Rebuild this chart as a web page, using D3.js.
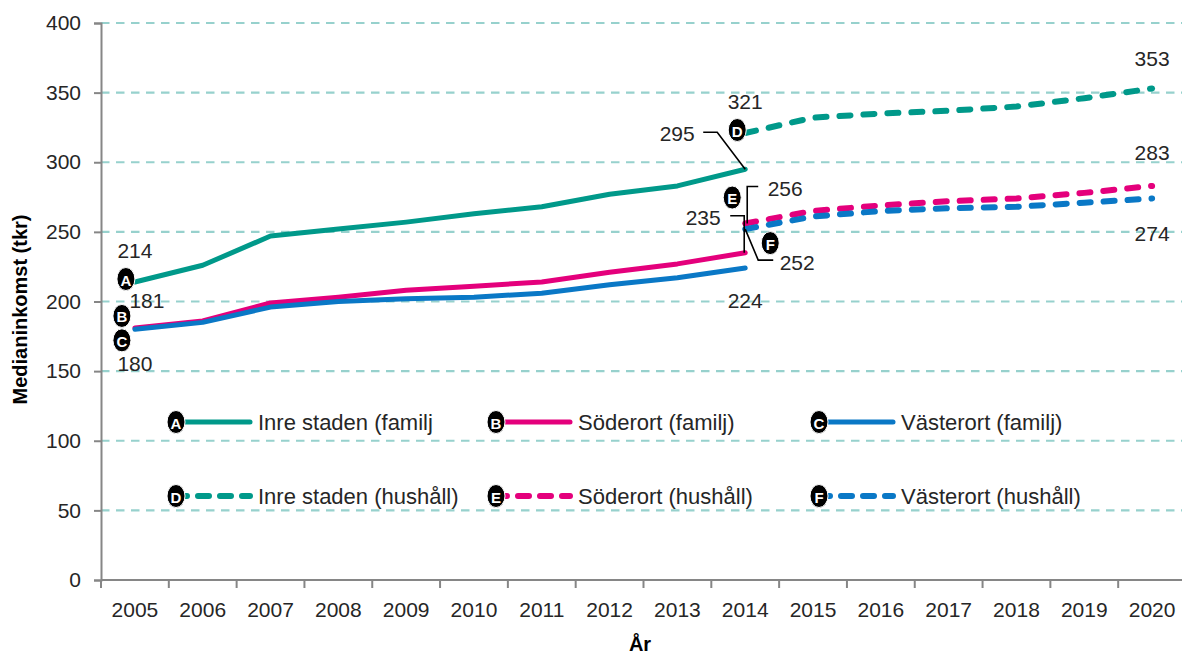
<!DOCTYPE html>
<html>
<head>
<meta charset="utf-8">
<script src="https://cdn.jsdelivr.net/npm/d3@7"></script>
<style>
  body { margin: 0; background: #fff; }
  text { font-family: "Liberation Sans", Arial, sans-serif; fill: #262626; }
</style>
</head>
<body>
<div id="chart"></div>
<script>
// categories
const years = ["2005", "2006", "2007", "2008", "2009", "2010", "2011", "2012",
    "2013", "2014", "2015", "2016", "2017", "2018", "2019", "2020"];
const familjYears = ["2005", "2006", "2007", "2008", "2009", "2010", "2011", "2012", "2013", "2014"];
const hushallYears = ["2014", "2015", "2016", "2017", "2018", "2019", "2020"];
const yTicks = [0, 50, 100, 150, 200, 250, 300, 350, 400];

// median income (tkr)
const inreFamilj = [214, 226, 247, 252, 257, 263, 268, 277, 283, 295];
const soderFamilj = [181, 186, 199, 203, 208, 211, 214, 221, 227, 235];
const vasterFamilj = [180, 185, 196, 200, 202, 203, 206, 212, 217, 224];
const inreHushall = [321, 332, 335, 337, 340, 346, 353];
const soderHushall = [256, 265, 269, 272, 274, 278, 283];
const vasterHushall = [252, 261, 265, 267, 268, 271, 274];

const teal = "#00998a", pink = "#e4007c", blue = "#0a78c6";

const series = [
    { key: "A", name: "Inre staden (familj", years: familjYears, values: inreFamilj, color: teal, dashed: false },
    { key: "B", name: "Söderort (familj)", years: familjYears, values: soderFamilj, color: pink, dashed: false },
    { key: "C", name: "Västerort (familj)", years: familjYears, values: vasterFamilj, color: blue, dashed: false },
    { key: "D", name: "Inre staden (hushåll)", years: hushallYears, values: inreHushall, color: teal, dashed: true },
    { key: "E", name: "Söderort (hushåll)", years: hushallYears, values: soderHushall, color: pink, dashed: true },
    { key: "F", name: "Västerort (hushåll)", years: hushallYears, values: vasterHushall, color: blue, dashed: true }
];

const width = 1182, height = 655;
const plotLeft = 101, plotRight = 1186, plotTop = 23, plotBottom = 580;

const svg = d3.select("#chart").append("svg")
    .attr("width", width)
    .attr("height", height);

const x = d3.scaleBand().domain(years).range([plotLeft, plotRight]).paddingInner(0).paddingOuter(0);
const y = d3.scaleLinear().domain([0, 400]).range([plotBottom, plotTop]);
const xc = d => x(d) + x.bandwidth() / 2;

// gridlines
svg.append("g")
    .selectAll("line")
    .data(yTicks.filter(d => d > 0))
    .join("line")
    .attr("x1", plotLeft).attr("x2", width)
    .attr("y1", d => y(d)).attr("y2", d => y(d))
    .attr("stroke", "#97d1cd")
    .attr("stroke-width", 2.2)
    .attr("stroke-dasharray", "8.5,6.5");

// axes
const yAxis = svg.append("g")
    .attr("transform", `translate(${plotLeft},0)`)
    .call(d3.axisLeft(y).tickValues(yTicks).tickSize(7).tickPadding(13));
const xAxis = svg.append("g")
    .attr("transform", `translate(0,${plotBottom})`)
    .call(d3.axisBottom(x).tickSize(0).tickPadding(22));

[yAxis, xAxis].forEach(a => {
    a.select(".domain").attr("stroke", "#868686").attr("stroke-width", 2);
    a.selectAll(".tick line").attr("stroke", "#868686").attr("stroke-width", 2);
    a.selectAll("text").attr("font-size", 21).attr("fill", "#262626")
        .attr("font-family", "Liberation Sans, Arial, sans-serif");
});
xAxis.select(".domain").attr("d", `M${plotLeft},0H${width}`);
// category separators on the x axis
xAxis.selectAll("line.sep")
    .data(years)
    .join("line")
    .attr("class", "sep")
    .attr("x1", d => x(d)).attr("x2", d => x(d))
    .attr("y1", 0).attr("y2", 8)
    .attr("stroke", "#868686").attr("stroke-width", 2);

// axis titles
svg.append("text")
    .attr("transform", `translate(20,${(plotTop + plotBottom) / 2 + 8}) rotate(-90)`)
    .attr("text-anchor", "middle")
    .attr("dominant-baseline", "central")
    .attr("font-size", 20).attr("font-weight", "bold")
    .style("fill", "#000")
    .text("Medianinkomst (tkr)");
svg.append("text")
    .attr("x", 640).attr("y", 651)
    .attr("text-anchor", "middle")
    .attr("font-size", 20).attr("font-weight", "bold")
    .style("fill", "#000")
    .text("År");

// lines
const line = d3.line().x(d => xc(d.year)).y(d => y(d.value));
series.forEach(s => {
    const pts = s.years.map((yr, i) => ({ year: yr, value: s.values[i] }));
    svg.append("path")
        .datum(pts)
        .attr("d", line)
        .attr("fill", "none")
        .attr("stroke", s.color)
        .attr("stroke-width", s.dashed ? 6 : 5)
        .attr("stroke-linecap", "round")
        .attr("stroke-linejoin", "round")
        .attr("stroke-dasharray", s.dashed ? "11,13" : null);
});

const badge = (g, cx, cy, letter) => {
    g.append("ellipse")
        .attr("cx", cx).attr("cy", cy)
        .attr("rx", 9).attr("ry", 11.5)
        .attr("fill", "#000")
        .attr("stroke", "#fff").attr("stroke-width", 1);
    g.append("text")
        .attr("x", cx).attr("y", cy + 1)
        .attr("text-anchor", "middle")
        .attr("dominant-baseline", "central")
        .attr("font-size", 15).attr("font-weight", "bold")
        .style("fill", "#fff")
        .text(letter);
};

const label = (g, tx, ty, txt) => {
    g.append("text")
        .attr("x", tx).attr("y", ty)
        .attr("text-anchor", "middle")
        .attr("dominant-baseline", "central")
        .attr("font-size", 21)
        .text(txt);
};

const leader = (g, pts) => {
    g.append("path")
        .attr("d", d3.line()(pts))
        .attr("fill", "none")
        .attr("stroke", "#000")
        .attr("stroke-width", 1.6);
};

const ann = svg.append("g");
const first = familjYears[0], last = familjYears[familjYears.length - 1];
const end = hushallYears[hushallYears.length - 1];
const xf = xc(first), xl = xc(last), xe = xc(end);

// start of family series
label(ann, xf, y(inreFamilj[0]) - 32, inreFamilj[0]);
label(ann, xf + 12, y(soderFamilj[0]) - 27, soderFamilj[0]);
label(ann, xf, y(vasterFamilj[0]) + 34, vasterFamilj[0]);
badge(ann, xf - 9, y(inreFamilj[0]) - 3, "A");
badge(ann, xf - 13, y(soderFamilj[0]) - 12, "B");
badge(ann, xf - 13, y(vasterFamilj[0]) + 11, "C");

// 2014 split
label(ann, xl, y(inreHushall[0]) - 32, inreHushall[0]);
badge(ann, xl - 8, y(inreHushall[0]) - 3, "D");
leader(ann, [[xl - 42, y(inreFamilj[9]) - 37], [xl - 28, y(inreFamilj[9]) - 37], [xl, y(inreFamilj[9])]]);
label(ann, xl - 68, y(inreFamilj[9]) - 36, inreFamilj[9]);

leader(ann, [[xl + 13, y(soderHushall[0]) - 37], [xl + 2, y(soderHushall[0]) - 37], [xl + 2, y(soderHushall[0])]]);
label(ann, xl + 40, y(soderHushall[0]) - 35, soderHushall[0]);
badge(ann, xl - 13, y(soderHushall[0]) - 26, "E");

leader(ann, [[xl - 15, y(soderFamilj[9]) - 37], [xl - 1, y(soderFamilj[9]) - 37], [xl - 1, y(soderFamilj[9])]]);
label(ann, xl - 42, y(soderFamilj[9]) - 35, soderFamilj[9]);

leader(ann, [[xl, y(vasterHushall[0])], [xl + 13, y(vasterHushall[0]) + 31], [xl + 28, y(vasterHushall[0]) + 31]]);
label(ann, xl + 52, y(vasterHushall[0]) + 33, vasterHushall[0]);
badge(ann, xl + 25, y(vasterHushall[0]) + 14, "F");

label(ann, xl, y(vasterFamilj[9]) + 32, vasterFamilj[9]);

// 2020 end values
label(ann, xe, y(inreHushall[6]) - 30, inreHushall[6]);
label(ann, xe, y(soderHushall[6]) - 33, soderHushall[6]);
label(ann, xe, y(vasterHushall[6]) + 35, vasterHushall[6]);

// legend
const legCols = [176, 496, 819], legRows = [422, 496];
const legend = svg.append("g");
series.forEach((s, i) => {
    const lx = legCols[i % 3], ly = legRows[Math.floor(i / 3)];
    legend.append("line")
        .attr("x1", lx).attr("x2", lx + 74)
        .attr("y1", ly).attr("y2", ly)
        .attr("stroke", s.color)
        .attr("stroke-width", s.dashed ? 6 : 5)
        .attr("stroke-linecap", "round")
        .attr("stroke-dasharray", s.dashed ? "11,11" : null);
    badge(legend, lx, ly, s.key);
    legend.append("text")
        .attr("x", lx + 82).attr("y", ly)
        .attr("dominant-baseline", "central")
        .attr("font-size", 22)
        .text(s.name);
});
</script>
</body>
</html>
